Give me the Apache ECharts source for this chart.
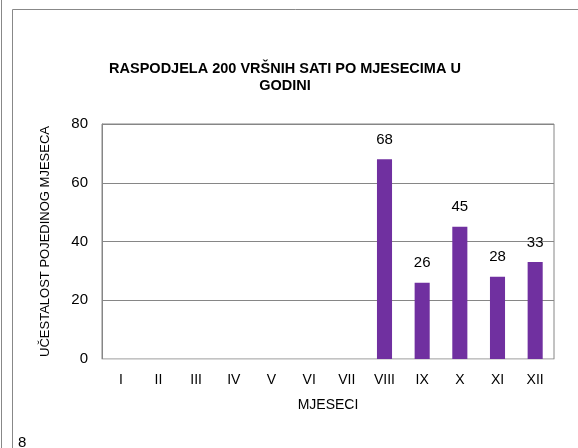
<!DOCTYPE html>
<html>
<head>
<meta charset="utf-8">
<script src="https://cdn.jsdelivr.net/npm/echarts@6/dist/echarts.min.js"></script>
<style>
html, body { margin: 0; padding: 0; background: #fff; }
#container { width: 578px; height: 448px; }
</style>
</head>
<body>
<div id="container"></div>
<script>
// mjeseci i broj vršnih sati
var mjeseci = ['I', 'II', 'III', 'IV', 'V', 'VI', 'VII', 'VIII', 'IX', 'X', 'XI', 'XII'];
var ucestalost = [0, 0, 0, 0, 0, 0, 0, 68, 26, 45, 28, 33];
var stranica = '8';

var dom = document.getElementById('container');
var myChart = echarts.init(dom);
var font = 'Liberation Sans, Arial, sans-serif';

var option = {
	backgroundColor: '#fff',
	animation: false,
	title: {
		text: 'RASPODJELA 200 VRŠNIH SATI PO MJESECIMA U\nGODINI',
		left: 280,
		textAlign: 'center',
		top: 55,
		textStyle: {
			fontFamily: font,
			fontSize: 14.5,
			fontWeight: 'bold',
			color: '#000',
			lineHeight: 17
		}
	},
	grid: {
		left: 102,
		right: 24,
		top: 124,
		bottom: 89,
		show: true,
		borderColor: '#868686',
		borderWidth: 1
	},
	xAxis: {
		type: 'category',
		data: mjeseci,
		name: 'MJESECI',
		nameLocation: 'middle',
		nameGap: 39,
		nameTextStyle: { fontFamily: font, fontSize: 14, color: '#000' },
		axisLine: { lineStyle: { color: '#d9d9d9' } },
		axisTick: { show: false },
		axisLabel: { fontFamily: font, fontSize: 14, color: '#000', margin: 14 }
	},
	yAxis: {
		type: 'value',
		min: 0,
		max: 80,
		interval: 20,
		name: 'UČESTALOST POJEDINOG MJESECA',
		nameLocation: 'middle',
		nameGap: 50,
		nameTextStyle: { fontFamily: font, fontSize: 13, color: '#000' },
		axisLine: { show: true, lineStyle: { color: '#868686' } },
		axisTick: { show: false },
		axisLabel: { fontFamily: font, fontSize: 15, color: '#000', margin: 14 },
		splitLine: { lineStyle: { color: '#868686' } }
	},
	series: [{
		type: 'bar',
		data: ucestalost,
		barWidth: '40%',
		itemStyle: { color: '#7030a0' },
		label: {
			show: true,
			position: 'top',
			distance: 12,
			fontFamily: font,
			fontSize: 15,
			color: '#000',
			formatter: function(p) {
				return p.value > 0 ? p.value : '';
			}
		}
	}],
	graphic: [
		{ type: 'line', shape: { x1: 1.5, y1: 0, x2: 1.5, y2: 448 }, style: { stroke: '#888', lineWidth: 1 } },
		{ type: 'line', shape: { x1: 12.5, y1: 9.5, x2: 578, y2: 9.5 }, style: { stroke: '#888', lineWidth: 1 } },
		{ type: 'line', shape: { x1: 12.5, y1: 9.5, x2: 12.5, y2: 448 }, style: { stroke: '#888', lineWidth: 1 } },
		{ type: 'text', left: 18, top: 435, style: { text: stranica, font: '15px ' + font, fill: '#000' } }
	]
};
myChart.setOption(option);
</script>
</body>
</html>
